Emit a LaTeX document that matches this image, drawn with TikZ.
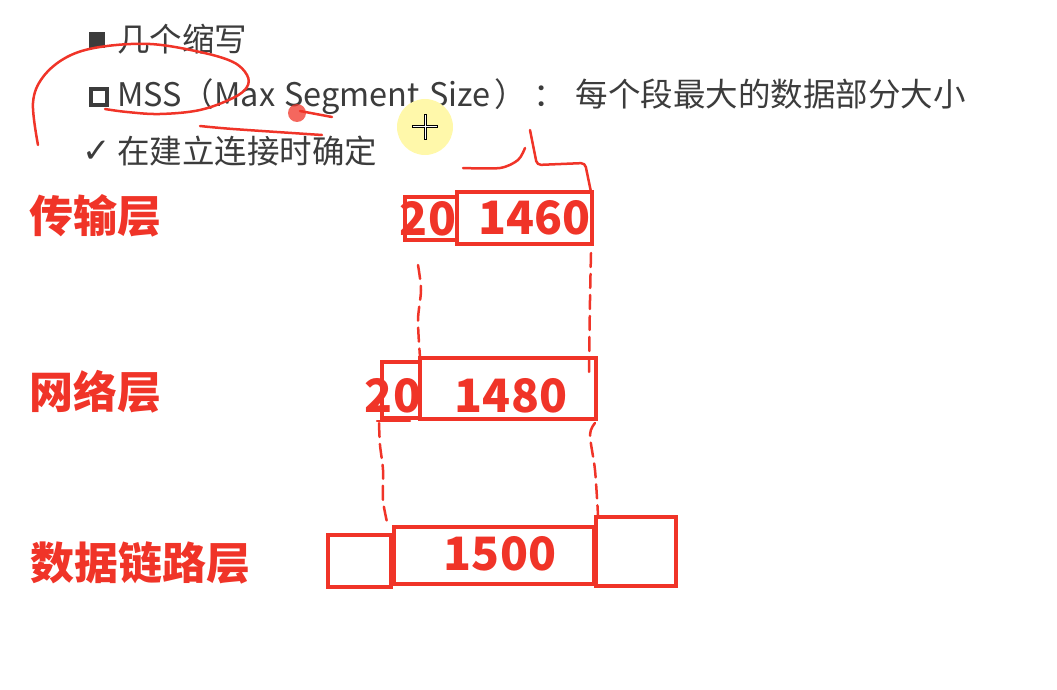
\documentclass[tikz,border=0pt]{standalone}
\usepackage{fontspec}
\setmainfont{Noto Sans CJK SC}
\newfontfamily\symfont{DejaVu Sans}
\definecolor{inkred}{RGB}{240,52,40}
\definecolor{slidetext}{RGB}{60,60,60}
\definecolor{hilite}{RGB}{255,248,170}
\tikzset{
	seg/.style={draw=inkred, line width=3.5pt, inner sep=0pt},
	num/.style={text=inkred, inner sep=0pt, font=\bfseries\fontsize{46}{46}\selectfont},
	layer/.style={text=inkred, inner sep=0pt, font=\bfseries\fontsize{44}{44}\selectfont},
	slideline/.style={text=slidetext, anchor=base west, inner sep=0pt, font=\fontsize{32.5}{32.5}\selectfont},
	guide/.style={draw=inkred, line width=2.5pt, dash pattern=on 14pt off 7pt, line cap=round},
	pen/.style={draw=inkred, line width=2.5pt, line cap=round, line join=round},
}

\begin{document}
\begin{tikzpicture}[x=1pt, y=-1pt]
	\useasboundingbox (0,0) rectangle (1057,690);

	% slide text
	\fill [slidetext] (89,32) rectangle (105,48);
	\draw [slidetext, line width=3.5pt] (91,89) rectangle (107,105);
	\node [slidetext, inner sep=0pt, font=\symfont\fontsize{34}{34}\selectfont] (tick) at (97,152) {✓};
	\node [slideline] (head) at (117,52) {几个缩写};
	\node [slideline] (mss) at (117,107) {MSS（Max\hspace{2pt} Segment\hspace{2pt} Size\hspace{4pt}）\hspace{6pt}：\hspace{10pt}每个段最大的数据部分大小};
	\node [slideline] (when) at (117,164) {在建立连接时确定};

	% cursor
	\fill [hilite] (425,127) circle (28);
	\begin{scope}[line width=3pt]
		\draw (412,127) -- (438,127);
		\draw (425,114) -- (425,140);
	\end{scope}
	\begin{scope}[white, line width=1pt]
		\draw (413,127) -- (437,127);
		\draw (425,115) -- (425,139);
	\end{scope}

	% freehand marks
	\draw [pen] plot [smooth, tension=0.6] coordinates {(38,145) (33,103) (43,77) (67,57) (100,47) (150,44) (200,52) (233,62) (247,75) (247,87) (233,98) (200,110) (160,114) (127,112) (105,109)};
	\draw [pen] plot [smooth] coordinates {(200,126) (233,129) (322,135)};
	\fill [inkred, opacity=0.75] (297,113) circle (9);
	\draw [pen] (300,111) -- (332,117);
	\draw [pen] plot [smooth] coordinates {(463,168) (500,168) (518,160) (525,148)};
	\draw [pen, rounded corners=4pt] (530,130) -- (537,165) -- (585,163) -- (591,192);

	% layers
	\node [layer] (trans) at (95,216) {传输层};
	\node [layer] (net) at (95,392) {网络层};
	\node [layer] (link) at (140,563) {数据链路层};

	% segments
	\node [seg, minimum width=52, minimum height=43] (t20) at (431,218.5) {};
	\node [seg, minimum width=135, minimum height=52] (t1460) at (524.5,218) {};
	\node [seg, minimum width=38, minimum height=56] (n20) at (401,390) {};
	\node [seg, minimum width=176, minimum height=61] (n1480) at (508,388.5) {};
	\node [seg, minimum width=63, minimum height=52] (dhead) at (359.5,561) {};
	\node [seg, minimum width=200, minimum height=57] (d1500) at (494,555.5) {};
	\node [seg, minimum width=80, minimum height=69] (dtail) at (636,551.5) {};

	\node [num] at (t20) [xshift=-3pt] {20};
	\node [num] at (t1460) [xshift=10pt] {1460};
	\node [num] at (n20) [xshift=-8pt, yshift=-6pt] {20};
	\node [num] at (n1480) [xshift=3pt, yshift=-7pt] {1480};
	\node [num] at (d1500) [xshift=6pt, yshift=2pt] {1500};
	\draw [pen] (377,421) -- (410,421);

	% guides between layers
	\draw [guide] plot [smooth] coordinates {(418,265) (421,290) (418,320) (420,357)};
	\draw [guide] plot [smooth] coordinates {(591,253) (590,300) (589,372)};
	\draw [guide] plot [smooth] coordinates {(379,423) (380,445) (383,470) (383,500) (387,522)};
	\draw [guide] plot [smooth] coordinates {(595,423) (590,435) (595,470) (598,515)};
\end{tikzpicture}
\end{document}
